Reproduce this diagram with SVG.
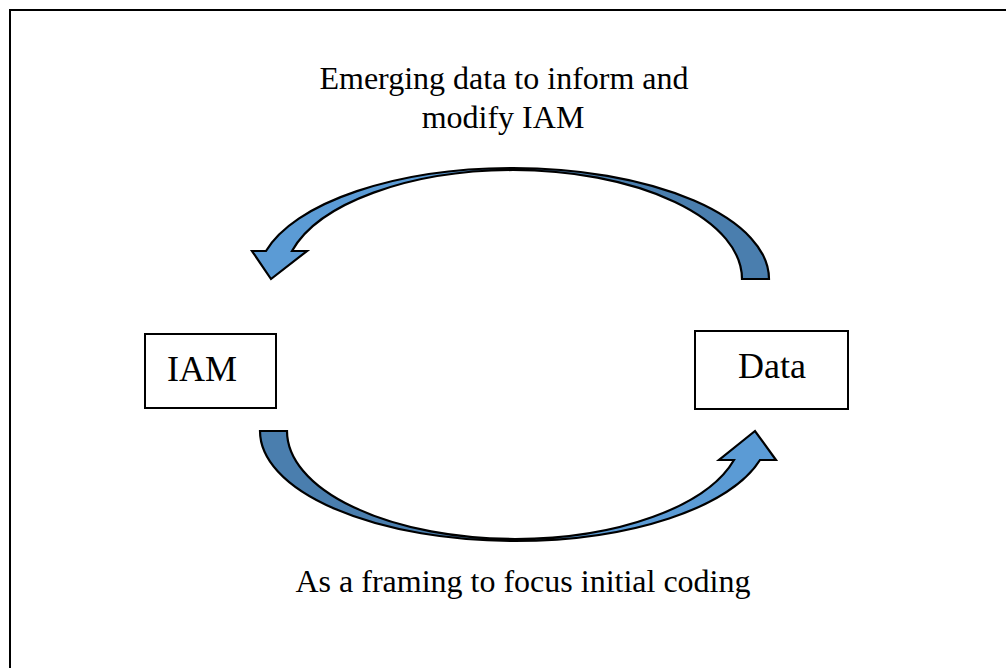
<svg xmlns="http://www.w3.org/2000/svg" width="1006" height="668" viewBox="0 0 1006 668">
  <style>
    .frame { fill: none; stroke: #000; stroke-width: 2; }
    .box { fill: #fff; stroke: #000; stroke-width: 2; }
    .back { fill: #4a7eae; stroke: #000; stroke-width: 2.2; stroke-linejoin: miter; }
    .front { fill: #5b9bd5; stroke: #000; stroke-width: 2.2; stroke-linejoin: miter; }
    .node-label { font-family: "Liberation Serif", "Times New Roman", serif; font-size: 36px; fill: #000; text-anchor: middle; }
    .edge-label { font-family: "Liberation Serif", "Times New Roman", serif; font-size: 32px; fill: #000; text-anchor: middle; }
  </style>

  <rect width="1006" height="668" fill="#fff"/>
  <!-- page frame, open at right and bottom -->
  <path class="frame" d="M10,668 V10 H1006"/>

  <g id="node-iam">
    <rect class="box" x="145" y="334" width="131" height="74"/>
    <text class="node-label" x="202" y="381">IAM</text>
  </g>

  <g id="node-data">
    <rect class="box" x="695" y="331" width="153" height="78"/>
    <text class="node-label" x="772" y="378">Data</text>
  </g>

  <g id="connectors">
    <!-- upper curved arrow: Data -> IAM -->
    <g id="arrow-data-iam">
      <path class="back" d="M513,168 A256,111 0 0 1 769,279 L742,279 A229,109 0 0 0 513,170 Z"/>
      <path class="front" d="M513,168 A255,111 0 0 0 266,251 L252,251 L271,279 L307,251 L292,251 A229,109 0 0 1 513,170 Z"/>
    </g>
    <!-- lower curved arrow: IAM -> Data -->
    <g id="arrow-iam-data">
      <path class="back" d="M260,431 A255,110 0 0 0 515,541 L515,539 A228,108 0 0 1 287,431 Z"/>
      <path class="front" d="M515,541 A254,110 0 0 0 760,460 L776,460 L755,431 L719,460 L734,460 A227,108 0 0 1 515,539 Z"/>
    </g>
    <text class="edge-label" x="504" y="89">Emerging data to inform and</text>
    <text class="edge-label" x="503" y="128">modify IAM</text>
    <text class="edge-label" x="523" y="592">As a framing to focus initial coding</text>
  </g>
</svg>
